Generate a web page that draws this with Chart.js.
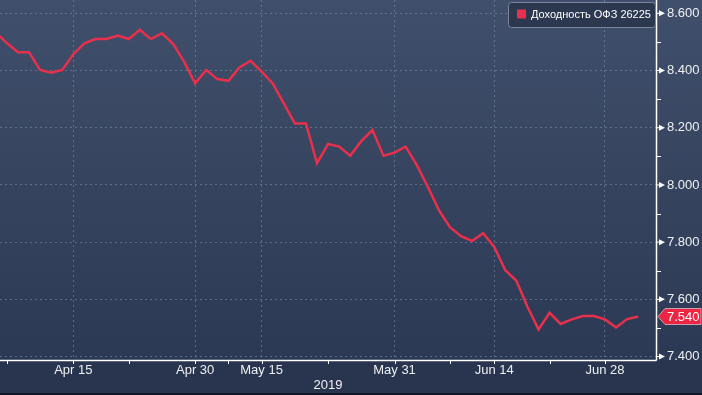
<!DOCTYPE html>
<html>
<head>
<meta charset="utf-8">
<script src="https://cdn.jsdelivr.net/npm/chart.js@4/dist/chart.umd.min.js"></script>
<style>
  html, body { margin: 0; padding: 0; background: #29344e; }
  canvas { display: block; }
</style>
</head>
<body>
<canvas id="chart" width="702" height="395"></canvas>
<script>
// trading days (Moscow exchange, holidays skipped) and yield values
const dates = [
  'Apr 4', 'Apr 5', 'Apr 8', 'Apr 9', 'Apr 10', 'Apr 11', 'Apr 12', 'Apr 15', 'Apr 16', 'Apr 17',
  'Apr 18', 'Apr 19', 'Apr 22', 'Apr 23', 'Apr 24', 'Apr 25', 'Apr 26', 'Apr 29', 'Apr 30', 'May 6',
  'May 7', 'May 8', 'May 13', 'May 14', 'May 15', 'May 16', 'May 17', 'May 20', 'May 21', 'May 22',
  'May 23', 'May 24', 'May 27', 'May 28', 'May 29', 'May 30', 'May 31', 'Jun 3', 'Jun 4', 'Jun 5',
  'Jun 6', 'Jun 7', 'Jun 10', 'Jun 11', 'Jun 13', 'Jun 14', 'Jun 17', 'Jun 18', 'Jun 19', 'Jun 20',
  'Jun 21', 'Jun 24', 'Jun 25', 'Jun 26', 'Jun 27', 'Jun 28', 'Jul 1', 'Jul 2', 'Jul 3'
];
const yields = [
  8.533, 8.496, 8.464, 8.464, 8.402, 8.392, 8.402, 8.457, 8.495, 8.510,
  8.510, 8.522, 8.510, 8.542, 8.510, 8.530, 8.493, 8.431, 8.355, 8.402,
  8.370, 8.364, 8.411, 8.434, 8.396, 8.355, 8.285, 8.215, 8.215, 8.076,
  8.143, 8.134, 8.102, 8.153, 8.192, 8.102, 8.113, 8.134, 8.070, 7.994,
  7.912, 7.852, 7.821, 7.804, 7.831, 7.783, 7.702, 7.665, 7.574, 7.495,
  7.553, 7.514, 7.530, 7.542, 7.542, 7.530, 7.502, 7.531, 7.540
];
const seriesName = 'Доходность ОФЗ 26225';
const xTickLabels = ['Apr 15', 'Apr 30', 'May 15', 'May 31', 'Jun 14', 'Jun 28'];
const xMinorDates = ['Apr 5', 'Apr 22', 'May 8', 'May 23', 'Jun 7', 'Jun 21'];
const yTicks = [7.4, 7.6, 7.8, 8.0, 8.2, 8.4, 8.6];
const yMinorTicks = [7.5, 7.7, 7.9, 8.1, 8.3, 8.5];
const yearLabel = '2019';

const lineColor = '#e8304c';
const gridColor = 'rgba(125,155,185,0.5)';
const textColor = '#eef0f3';
const labelFont = '13px "Liberation Sans", Arial, sans-serif';

const points = yields.map((v, i) => ({ x: i, y: v }));
const majorIdx = xTickLabels.map(d => dates.indexOf(d));
const minorIdx = xMinorDates.map(d => dates.indexOf(d));

const decor = {
  id: 'decor',
  beforeDraw(chart) {
    const ctx = chart.ctx;
    const bottom = chart.chartArea.bottom;
    const g = ctx.createLinearGradient(0, 0, 0, bottom);
    g.addColorStop(0, '#404f6b');
    g.addColorStop(1, '#2c3954');
    ctx.save();
    ctx.fillStyle = g;
    ctx.fillRect(0, 0, chart.width, bottom);
    ctx.fillStyle = '#29344e';
    ctx.fillRect(0, bottom, chart.width, chart.height - bottom);
    ctx.fillStyle = '#11161f';
    ctx.fillRect(0, chart.height - 2, chart.width, 2);
    ctx.restore();
  },
  afterDraw(chart) {
    const ctx = chart.ctx;
    const area = chart.chartArea;
    const xs = chart.scales.x, ys = chart.scales.y;
    ctx.save();
    // axis lines
    ctx.strokeStyle = '#ffffff';
    ctx.lineWidth = 1.5;
    ctx.beginPath();
    ctx.moveTo(area.left, area.bottom + 0.5);
    ctx.lineTo(area.right + 0.5, area.bottom + 0.5);
    ctx.moveTo(area.right + 0.5, area.top);
    ctx.lineTo(area.right + 0.5, area.bottom + 0.5);
    ctx.stroke();
    // x tick marks
    ctx.lineWidth = 1;
    ctx.beginPath();
    majorIdx.concat(minorIdx).forEach(i => {
      const px = Math.round(xs.getPixelForValue(i)) + 0.5;
      ctx.moveTo(px, area.bottom);
      ctx.lineTo(px, area.bottom + 4);
    });
    // y minor tick marks
    yMinorTicks.forEach(v => {
      const py = Math.round(ys.getPixelForValue(v)) + 0.5;
      ctx.moveTo(area.right, py);
      ctx.lineTo(area.right + 5, py);
    });
    ctx.stroke();
    // y major arrow marks
    ctx.fillStyle = '#ffffff';
    yTicks.forEach(v => {
      const py = ys.getPixelForValue(v);
      ctx.fillRect(area.right, py - 0.5, 4, 1);
      ctx.beginPath();
      ctx.moveTo(area.right + 3, py - 3);
      ctx.lineTo(area.right + 9, py);
      ctx.lineTo(area.right + 3, py + 3);
      ctx.closePath();
      ctx.fill();
    });
    // last value tag
    const last = yields[yields.length - 1];
    const ty = ys.getPixelForValue(last);
    const tx = area.right + 2;
    ctx.beginPath();
    ctx.moveTo(tx, ty);
    ctx.lineTo(tx + 7, ty - 8);
    ctx.lineTo(chart.width - 1, ty - 8);
    ctx.lineTo(chart.width - 1, ty + 8);
    ctx.lineTo(tx + 7, ty + 8);
    ctx.closePath();
    ctx.fillStyle = '#ec2542';
    ctx.fill();
    ctx.strokeStyle = 'rgba(255,255,255,0.55)';
    ctx.lineWidth = 1;
    ctx.stroke();
    ctx.fillStyle = '#ffffff';
    ctx.font = labelFont;
    ctx.textBaseline = 'middle';
    ctx.textAlign = 'left';
    ctx.fillText(last.toFixed(3), tx + 9, ty + 1);
    // legend box
    const lx = 508.5, ly = 2.5, lw = 147, lh = 25;
    ctx.beginPath();
    ctx.roundRect(lx, ly, lw, lh, 3);
    ctx.fillStyle = 'rgba(43,55,80,0.97)';
    ctx.fill();
    ctx.strokeStyle = '#7c8698';
    ctx.stroke();
    ctx.fillStyle = lineColor;
    ctx.fillRect(517, 9.5, 9, 9);
    ctx.fillStyle = '#ffffff';
    ctx.font = '11px "Liberation Sans", Arial, sans-serif';
    ctx.fillText(seriesName, 531, 15);
    ctx.restore();
  }
};

new Chart(document.getElementById('chart'), {
  type: 'line',
  data: {
    datasets: [{
      label: seriesName,
      data: points,
      borderColor: lineColor,
      borderWidth: 2.5,
      pointRadius: 0,
      tension: 0
    }]
  },
  options: {
    responsive: false,
    animation: false,
    layout: { padding: 0 },
    plugins: { legend: { display: false }, tooltip: { enabled: false } },
    scales: {
      x: {
        type: 'linear',
        min: 0.383,
        max: 59.605,
        afterBuildTicks: s => { s.ticks = majorIdx.map(v => ({ value: v })); },
        afterFit: s => { s.height = 35; s.paddingLeft = 0; s.paddingRight = 0; },
        ticks: {
          autoSkip: false,
          maxRotation: 0,
          padding: 3,
          color: textColor,
          font: { family: '"Liberation Sans", Arial, sans-serif', size: 13 },
          callback: v => dates[v]
        },
        grid: { color: gridColor, lineWidth: 1, drawTicks: false },
        border: { display: false, dash: [2, 3] },
        title: {
          display: true,
          text: yearLabel,
          color: textColor,
          font: { family: '"Liberation Sans", Arial, sans-serif', size: 13 },
          padding: { top: 0, bottom: 2 }
        }
      },
      y: {
        position: 'right',
        min: 7.388,
        max: 8.6465,
        afterBuildTicks: s => { s.ticks = yTicks.map(v => ({ value: v })); },
        afterFit: s => { s.width = 46; s.paddingTop = 0; s.paddingBottom = 0; },
        ticks: {
          padding: 11,
          color: textColor,
          font: { family: '"Liberation Sans", Arial, sans-serif', size: 13 },
          callback: v => v.toFixed(3)
        },
        grid: { color: gridColor, lineWidth: 1, drawTicks: false },
        border: { display: false, dash: [2, 3] }
      }
    }
  },
  plugins: [decor]
});
</script>
</body>
</html>
